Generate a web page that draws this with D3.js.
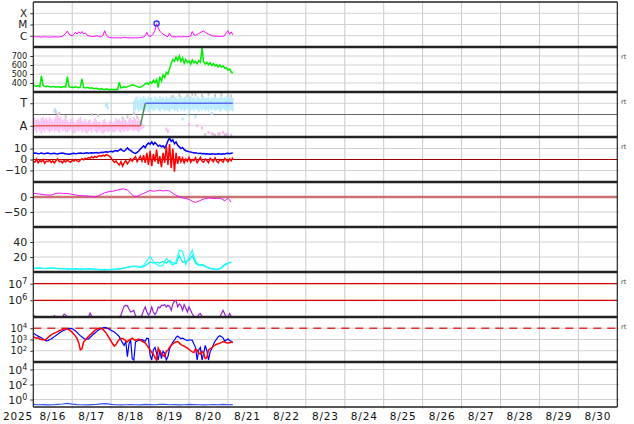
<!DOCTYPE html>
<html><head><meta charset="utf-8">
<script src="https://cdn.jsdelivr.net/npm/d3@7"></script>
<style>body{margin:0;background:#fff}svg{display:block}text{font-family:"DejaVu Sans",sans-serif}</style>
</head><body><svg id="c" width="634" height="424"></svg>
<script>
// ---------- DATA (hours since 2025-08-16 00:00) ----------
const dayLabels = ["8/16","8/17","8/18","8/19","8/20","8/21","8/22","8/23","8/24","8/25","8/26","8/27","8/28","8/29","8/30"];
const yearLabel = "2025";

// X-ray flux, hourly
const xray = [8.0e-7,8.2e-7,7.8e-7,8.5e-7,8.0e-7,7.6e-7,7.9e-7,8.3e-7,8.1e-7,7.7e-7,
7.5e-7,7.8e-7,8.0e-7,8.2e-7,7.9e-7,7.6e-7,7.8e-7,8.4e-7,9.0e-7,1.2e-6,
1.6e-6,2.6e-6,1.4e-6,1.1e-6,1.0e-6,1.3e-6,2.0e-6,1.4e-6,2.3e-6,1.6e-6,
2.4e-6,1.5e-6,1.8e-6,1.2e-6,1.0e-6,9.0e-7,9.0e-7,8.5e-7,9.0e-7,1.0e-6,
9.0e-7,8.0e-7,8.5e-7,1.1e-6,2.8e-6,1.2e-6,8.0e-7,7.0e-7,6.8e-7,6.5e-7,
6.6e-7,6.4e-7,6.7e-7,6.5e-7,6.3e-7,6.6e-7,7.5e-7,6.8e-7,6.5e-7,6.4e-7,
6.6e-7,6.3e-7,6.5e-7,6.7e-7,6.4e-7,6.6e-7,6.9e-7,7.2e-7,8.0e-7,1.0e-6,
2.0e-6,1.0e-6,9.0e-7,1.0e-6,1.5e-6,3.0e-6,1.2e-5,5.0e-6,2.6e-6,1.8e-6,
1.4e-6,1.1e-6,9.0e-7,8.5e-7,1.7e-6,9.0e-7,8.0e-7,8.2e-7,7.8e-7,8.0e-7,
8.3e-7,7.9e-7,8.1e-7,8.4e-7,8.0e-7,8.2e-7,8.8e-7,1.0e-6,2.4e-6,1.2e-6,
1.1e-6,1.3e-6,1.6e-6,1.9e-6,2.3e-6,2.6e-6,2.0e-6,1.6e-6,1.4e-6,1.2e-6,
1.0e-6,9.5e-7,9.0e-7,9.2e-7,8.8e-7,9.0e-7,8.6e-7,9.0e-7,1.1e-6,2.0e-6,
2.8e-6,1.3e-6,2.2e-6,1.2e-6];
const flareHour = 76, flareFlux = 1.2e-5;

// Solar wind speed, hourly
const speed = [380,370,365,372,360,480,375,362,358,365,360,355,362,358,352,360,355,350,358,362,
356,470,360,352,355,350,358,352,348,355,445,350,345,352,348,342,346,340,338,342,
336,332,335,330,328,333,330,326,330,328,325,330,327,410,345,350,358,352,360,365,
372,380,376,368,360,355,352,362,375,390,400,385,410,395,430,405,440,350,470,420,
490,460,520,500,560,620,660,640,690,650,700,640,680,620,660,630,645,610,655,625,
640,615,650,630,790,635,610,630,600,625,595,615,590,605,580,600,575,590,565,570,
545,555,520,510];

// IMF sector (T / A), hourly point spreads
const pinkHi = [-0.4,-0.3,-0.5,-0.35,-0.6,-0.3,-0.2,-0.45,-0.3,-0.5,
-0.25,-0.4,-0.6,-0.35,-0.1,0.1,-0.3,-0.2,-0.5,-0.4,
-0.3,-0.5,-0.7,-0.4,-0.3,-0.6,-0.8,-0.5,-0.35,-0.2,
-0.55,-0.6,-0.4,-0.7,-0.5,-0.45,-0.8,-0.6,-0.3,-0.5,
-0.7,-0.6,-0.9,-0.5,-0.4,-0.7,-0.85,-0.6,-0.5,-0.75,
-0.6,-0.3,-0.5,-0.4,-0.6,-0.45,-0.35,-0.5,-0.7,-0.4,
-0.3,-0.5,-0.2,-0.4,-0.6,-0.3,-0.5,-0.8,-0.9];
const pinkLo = [-1.5,-1.4,-1.6,-1.3,-1.5,-1.7,-1.4,-1.55,-1.3,-1.45,
-1.6,-1.5,-1.35,-1.6,-1.4,-1.5,-1.65,-1.3,-1.5,-1.4,
-1.55,-1.6,-1.45,-1.3,-1.5,-1.7,-1.6,-1.4,-1.5,-1.35,
-1.6,-1.45,-1.55,-1.7,-1.5,-1.4,-1.6,-1.3,-1.5,-1.65,
-1.5,-1.4,-1.6,-1.7,-1.55,-1.45,-1.6,-1.5,-1.35,-1.55,
-1.6,-1.45,-1.3,-1.5,-1.6,-1.4,-1.55,-1.35,-1.5,-1.45,
-1.3,-1.4,-1.5,-1.35,-1.45,-1.6,-1.4,-1.3,-1.2];
const blueStart = 62;
const blueHi = [1.2,1.5,1.6,1.3,1.55,1.4,1.65,1.5,1.35,1.6,1.45,1.55,1.3,1.6,1.5,1.4,1.65,1.5,1.55,1.35,
1.6,1.45,1.5,1.7,1.4,1.55,1.6,1.35,1.5,1.65,1.45,1.55,1.6,1.4,1.5,1.65,1.45,1.55,1.35,1.6,
1.5,1.4,1.55,1.65,1.45,1.5,1.6,1.35,1.55,1.45,1.6,1.5,1.4,1.55,1.65,1.45,1.5,1.6,1.4,1.55,1.5,1.45];
const blueLo = [0.2,0.3,0.5,0.25,0.4,0.35,0.55,0.3,0.45,0.2,0.4,0.5,0.3,0.35,0.55,0.4,0.25,0.45,0.5,0.3,
0.4,0.35,0.2,0.45,0.5,0.3,0.4,0.25,0.55,0.35,0.45,0.3,0.4,0.5,0.2,0.35,0.45,0.3,0.5,0.4,
0.25,0.45,0.35,0.5,0.3,0.4,0.2,0.45,0.35,0.5,0.3,0.4,0.45,0.25,0.35,0.5,0.4,0.3,0.45,0.35,0.4,0.3];
const grayPts = [[14,0.2],[16,0.1],[20,-0.2],[36,0.0],[40,-0.1],[55,-0.3],[58,-0.2],[62,0.1],[64,-0.25],
[86,1.6],[90,1.7],[95,1.65],[98,1.8],[100,1.75],[104,1.7],[108,1.8],[112,1.7],[116,1.75],[120,1.7],[122,1.65],
[106,-1.8],[110,-1.7],[112,-1.85],[114,-1.75],[118,-1.8],[120,-1.7],[122,-1.85]];
const pinkPts = [[82,-1.3],[83,-1.5],[96,-0.9],[101,-1.0],[104,-1.2],[108,-1.6],[111,-1.75],[115,-1.7],[117,-1.6],[119,-1.8]];
const bluePts = [[13,0.3],[13.5,0.45],[45,0.8],[45.5,0.95],[46,0.6],[92,-0.4],[95,0.0],[100,-0.2],[110,0.1]];
const sectorHours = [0,66,69,123];
const sectorVals = [-1,-1,1,1];

// IMF Bt and Bz (nT), hourly
const bt = [5.5,5.8,5.6,5.2,5.4,5.9,5.5,5.3,5.6,5.8,5.4,5.2,5.5,5.7,5.3,5.1,5.4,5.6,5.8,5.5,
5.2,5.0,4.8,5.1,5.4,5.6,5.3,5.5,5.8,6.0,5.7,5.5,5.9,6.1,5.8,6.0,6.2,5.9,6.1,6.3,6.0,
6.2,6.5,6.3,6.8,7.0,6.6,7.2,7.5,7.0,7.8,8.2,7.6,8.5,9.5,8.0,7.5,8.8,10.5,9.0,8.2,7.0,
6.0,5.5,6.5,7.8,9.5,11.0,12.5,10.8,13.5,15.0,14.0,
16.0,13.5,15.5,14.0,12.0,13.0,11.5,12.5,10.5,13.0,17.0,19.5,
16.5,18.0,14.5,16.0,13.0,11.5,10.0,11.0,9.0,8.0,7.5,
7.0,6.8,6.5,6.0,6.2,5.8,5.5,5.6,5.2,5.4,5.0,5.3,5.1,4.9,5.2,5.0,4.8,5.1,5.3,5.0,4.9,5.2,5.0,5.4,5.6,5.2,5.8,6.0];
const bz = [-1.5,-2.5,0.5,-3.0,-1.0,-2.0,0.0,-3.5,-1.5,-2.0,-0.5,-2.8,-1.2,-3.2,-1.0,0.5,-2.0,-1.5,-3.0,-1.0,-2.2,
-0.5,-1.8,-2.5,-0.8,-1.5,0.2,-1.2,-2.0,-0.5,0.8,-0.3,1.0,0.5,1.8,1.2,2.5,1.5,2.8,2.0,3.0,
3.5,2.8,4.0,3.2,4.5,3.8,3.0,1.5,-1.0,-2.5,-1.5,-3.5,-5.0,-2.0,-6.0,-3.0,-1.0,-4.0,-2.0,0.5,
-1.5,1.0,2.5,-2.0,0.5,3.0,-1.5,4.0,-3.0,6.0,-5.0,8.0,
-6.0,5.0,-2.0,9.0,-4.0,3.0,-7.0,6.0,-3.0,12.0,-5.0,14.0,-8.0,10.0,-11.0,6.0,-4.0,3.0,
-2.0,1.5,-3.0,0.5,-1.5,2.0,-2.5,0.0,-1.0,1.5,-3.0,-0.5,2.0,-1.5,-2.5,0.5,-1.0,-3.0,1.0,-0.5,
-2.0,1.5,-1.5,-3.0,0.0,-1.0,-2.5,1.0,-0.5,-2.0,0.5,-1.0,2.0];

// Dst-like index, every 2 hours
const dst = [12,11,10,8,7,6,8,12,13,12,12,11,9,7,5,4,4,3,2,1,
4,9,14,17,19,20,23,26,27,24,12,3,2,8,12,17,22,19,21,23,
20,22,20,12,6,1,-3,-5,-8,-14,-18,-14,-9,-5,-4,-4,-5,-4,-6,-13,-4,-17];

// Density, every 2 hours (two sources)
const densA = [5,5.5,5,4.5,5,5.5,5,4.5,4,5,4.5,4,4.5,4,3.5,4,4.5,4,3.5,4,
3,3.5,3,3.5,3,4,3.5,4,5,6.5,7.5,7,8,7,9,15,21,14,10,8,
9,18,13,9,14,29,28,10,20,29,14,10,9,7,6,4,3.5,4,5,9,11,14];
const densB = [4.5,5,5.5,5,4.5,5,5.5,5,4.5,4.5,4,4.5,4,4.5,4,3.5,4,4.5,4,3.5,
3.5,3,3.5,3,3.5,3.5,4,4.5,5.5,6,7,8,7,6,7,10,13,12,13,12,
14,12,15,12,11,22,13,14,16,22,12,9,10,8,5,4.5,4,3.5,6,10,12,13];

// Electron flux, hourly
const eflux = [1.4e5,1.1e5,1e5,1e5,1e5,1e5,1e5,1e5,1e5,1e5,
1e5,1e5,1e5,1.2e5,1e5,1e5,1e5,1e5,1e5,1.5e5,
1.3e5,1e5,1e5,1e5,1e5,1e5,1e5,1e5,1e5,1e5,
1e5,1e5,1e5,1e5,1e5,1.7e5,1.1e5,1e5,1e5,1e5,
1e5,1e5,1e5,1e5,1e5,1e5,1e5,1e5,1e5,1e5,
1e5,1e5,1e5,1e5,1.3e5,2.5e5,4.5e5,5e5,4.8e5,3e5,
2e5,2.2e5,2.5e5,1.2e5,1e5,1e5,1e5,1.3e5,2.5e5,4e5,
2e5,1.3e5,1.8e5,4e5,2e5,1.4e5,2e5,4e5,3.5e5,5e5,
5e5,5.5e5,4e5,5e5,4.5e5,2.5e5,6e5,9e5,1e6,4e5,
6e5,5e5,2.5e5,5.5e5,3.5e5,2e5,4e5,2.5e5,1.5e5,1.1e5,
1e5,1e5,1.4e5,1.6e5,1.1e5,1e5,1e5,1e5,1e5,1e5,
1e5,1e5,1e5,1e5,1e5,1e5,1.6e5,2.5e5,1.5e5,1e5,
1e5,1.6e5,1.1e5,1e5];
const eThresholds = [1e7,1e6];

// Proton / particle flux pair, hourly
const pBlue = [3800,3000,2400,2000,1700,1400,1100,900,750,800,950,1100,1400,1800,2300,2900,3700,4600,5600,6800,
8000,8800,9400,9800,9000,7500,5800,4200,3000,2200,1700,1300,1100,1000,1100,1500,2100,2900,3800,5000,
6500,8200,9800,11000,11800,11000,9500,7800,6500,5500,4600,3500,2500,1800,900,500,300,700,30,400,
900,20,15,600,750,900,850,1000,800,700,1300,1200,40,15,120,200,60,15,120,20,
90,60,15,30,150,300,600,900,1500,2000,1500,1200,1300,1100,900,800,950,900,850,400,
200,15,120,200,15,60,300,100,15,80,150,350,700,1100,1800,2200,1800,1400,700,900,
1100,800,700,500];
const pRed = [1700,1500,1300,1400,1100,1000,950,900,1100,1500,2000,2600,3200,3700,4300,5000,6000,6800,7800,8500,
8800,8400,7200,6000,4300,3000,2000,1200,500,120,150,600,900,1300,1800,2600,3500,4800,6500,8000,
9500,10500,9800,7500,5500,3500,2100,1200,700,400,260,350,650,1000,1300,1200,1000,800,600,900,
1100,1300,1000,850,950,1100,900,700,600,500,300,200,120,70,50,25,15,170,80,60,
40,30,90,110,200,300,400,550,600,650,500,350,300,250,210,170,130,100,80,70,
145,110,60,50,90,60,20,25,120,150,180,250,320,380,420,480,550,650,600,500,
480,520,560,600];
const pThreshold = 1e4;

// Bottom panel flux, every 3 hours
const lowFlux = [0.22,0.2,0.21,0.19,0.2,0.22,0.25,0.3,0.24,0.21,0.2,0.19,0.21,0.22,0.26,0.28,0.23,0.2,0.19,0.2,
0.21,0.2,0.19,0.22,0.21,0.2,0.23,0.22,0.2,0.21,0.19,0.2,0.22,0.21,0.2,0.19,0.2,0.21,0.2,0.22,0.2,0.21];

// ---------- DRAWING ----------
const svg = d3.select('#c');
const X0 = 33.3, X1 = 617.3, TOP = 2, PH = 45, NP = 9;
const x = d3.scaleLinear().domain([0, 360]).range([X0, X1]);
const pTop = i => TOP + PH * i;
const ser = (vals, step, start = 0) => vals.map((v, i) => [start + i * step, v]);

const panels = [
  {s: d3.scaleLog().domain([1e-7,1e-3]), ticks:[1e-4,1e-5,1e-6], fmt:d=>({1e-4:"X",1e-5:"M",1e-6:"C"})[d], grid:[1e-4,1e-5,1e-6], fs:10.5},
  {s: d3.scaleLinear().domain([300,800]), ticks:[700,600,500,400], fmt:d=>d, grid:[400,500,600,700], rt:true, fs:8.2},
  {s: d3.scaleLinear().domain([-2,2]), ticks:[1,-1], fmt:d=>d>0?"T":"A", grid:[1,-1], rt:true, fs:11.5},
  {s: d3.scaleLinear().domain([-20.5,20.5]), ticks:[10,0,-10], fmt:d=>d<0?"\u2212"+(-d):d, grid:[10,-10], rt:true, fs:10.5},
  {s: d3.scaleLinear().domain([-100,50]), ticks:[0,-50], fmt:d=>d<0?"\u2212"+(-d):d, grid:[-50]},
  {s: d3.scaleLinear().domain([0,60]), ticks:[40,20], fmt:d=>d, grid:[20,40]},
  {s: d3.scaleLog().domain([1e5,5e7]), ticks:[1e7,1e6], exp:true, grid:[], rt:true},
  {s: d3.scaleLog().domain([10,1e5]), ticks:[1e4,1e3,1e2], exp:true, grid:[1e2,1e3,1e4], rt:true, fs:9.6, efs:7},
  {s: d3.scaleLog().domain([0.1,1e5]), ticks:[1e4,1e2,1], exp:true, grid:[1,1e2,1e4]}
];
panels.forEach((p, i) => { p.s.range([pTop(i) + PH, pTop(i)]); p.top = pTop(i); });

const defs = svg.append('defs');
panels.forEach((p, i) => {
  defs.append('clipPath').attr('id', 'clip' + i).append('rect')
    .attr('x', X0).attr('y', p.top).attr('width', X1 - X0).attr('height', PH);
});

// vertical gridlines
const gGrid = svg.append('g');
for (let k = 1; k < 15; k++) {
  gGrid.append('line').attr('x1', x(k*24)).attr('x2', x(k*24)).attr('y1', TOP).attr('y2', pTop(NP) + 2)
    .attr('stroke', '#cacaca').attr('stroke-width', 1);
}
// horizontal gridlines
panels.forEach(p => {
  p.grid.forEach(v => {
    gGrid.append('line').attr('x1', X0).attr('x2', X1 + 2).attr('y1', p.s(v)).attr('y2', p.s(v))
      .attr('stroke', '#d2d2d2').attr('stroke-width', 1);
  });
});

const line = (s) => d3.line().x(d => x(d[0])).y(d => s(d[1]));
const layer = i => svg.append('g').attr('clip-path', `url(#clip${i})`);

// Panel 0: X-ray
{
  const p = panels[0], g = layer(0);
  g.append('path').datum(ser(xray, 1)).attr('d', line(p.s)).attr('fill', 'none').attr('stroke', '#ff00ff').attr('stroke-width', 1);
  g.append('circle').attr('cx', x(flareHour)).attr('cy', p.s(flareFlux)).attr('r', 2.6)
    .attr('fill', 'none').attr('stroke', '#2233ff').attr('stroke-width', 1.3);
}
// Panel 1: speed
{
  const p = panels[1], g = layer(1);
  g.append('path').datum(ser(speed, 1)).attr('d', line(p.s)).attr('fill', 'none').attr('stroke', '#00ee00').attr('stroke-width', 1.5);
}
// Panel 2: sector
{
  const p = panels[2], g = layer(2);
  g.append('line').attr('x1', X0).attr('x2', X1).attr('y1', p.s(0)).attr('y2', p.s(0)).attr('stroke', '#666').attr('stroke-width', 1);
  const pink = pinkHi.map((h, i) => [i, h, pinkLo[i]]);
  g.selectAll('.pk').data(pink).enter().append('rect')
    .attr('x', d => x(d[0]) - 0.8).attr('width', 1.6)
    .attr('y', d => p.s(d[1])).attr('height', d => p.s(d[2]) - p.s(d[1]))
    .attr('fill', '#fbb6f2').attr('opacity', 0.85);
  const blue = blueHi.map((h, i) => [blueStart + i, h, blueLo[i]]);
  g.selectAll('.bl').data(blue).enter().append('rect')
    .attr('x', d => x(d[0]) - 0.8).attr('width', 1.6)
    .attr('y', d => p.s(d[1])).attr('height', d => p.s(d[2]) - p.s(d[1]))
    .attr('fill', '#ade7fb').attr('opacity', 0.85);
  const dots = (arr, col) => g.selectAll(null).data(arr).enter().append('rect')
    .attr('x', d => x(d[0]) - 1).attr('y', d => p.s(d[1]) - 1.5).attr('width', 2).attr('height', 3).attr('fill', col);
  dots(grayPts, '#cccccc'); dots(pinkPts, '#fbb6f2'); dots(bluePts, '#ade7fb');
  const seg = (a, b, col) => g.append('line').attr('x1', x(sectorHours[a])).attr('x2', x(sectorHours[b]))
    .attr('y1', p.s(sectorVals[a])).attr('y2', p.s(sectorVals[b])).attr('stroke', col).attr('stroke-width', 1.5);
  seg(0, 1, '#ee5b5b'); seg(1, 2, '#4f8f4f'); seg(2, 3, '#5570ee');
}
// Panel 3: Bt/Bz
{
  const p = panels[3], g = layer(3);
  g.append('line').attr('x1', X0).attr('x2', X1).attr('y1', p.s(0)).attr('y2', p.s(0)).attr('stroke', '#9a0000').attr('stroke-width', 1.2);
  g.append('path').datum(ser(bt, 1)).attr('d', line(p.s)).attr('fill', 'none').attr('stroke', '#0000ff').attr('stroke-width', 1.5);
  g.append('path').datum(ser(bz, 1)).attr('d', line(p.s)).attr('fill', 'none').attr('stroke', '#ff0000').attr('stroke-width', 1.5);
}
// Panel 4: Dst
{
  const p = panels[4], g = layer(4);
  g.append('line').attr('x1', X0).attr('x2', X1).attr('y1', p.s(0)).attr('y2', p.s(0)).attr('stroke', '#c87272').attr('stroke-width', 2.4);
  g.append('path').datum(ser(dst, 2)).attr('d', line(p.s)).attr('fill', 'none').attr('stroke', '#ee11ee').attr('stroke-width', 1);
}
// Panel 5: density
{
  const p = panels[5], g = layer(5);
  g.append('path').datum(ser(densB, 2)).attr('d', line(p.s)).attr('fill', 'none').attr('stroke', '#00eeee').attr('stroke-width', 1.2);
  g.append('path').datum(ser(densA, 2)).attr('d', line(p.s)).attr('fill', 'none').attr('stroke', '#22ffff').attr('stroke-width', 1.2);
}
// Panel 6: electrons
{
  const p = panels[6], g = layer(6);
  eThresholds.forEach(v => g.append('line').attr('x1', X0).attr('x2', X1).attr('y1', p.s(v)).attr('y2', p.s(v)).attr('stroke', '#cc0000').attr('stroke-width', 1.2));
  g.append('path').datum(ser(eflux, 1)).attr('d', line(p.s)).attr('fill', 'none').attr('stroke', '#9922cc').attr('stroke-width', 1.2);
}
// Panel 7: protons
{
  const p = panels[7], g = layer(7);
  g.append('line').attr('x1', X0).attr('x2', X1).attr('y1', p.s(pThreshold)).attr('y2', p.s(pThreshold))
    .attr('stroke', '#e03030').attr('stroke-width', 1.3).attr('stroke-dasharray', '8,6');
  g.append('path').datum(ser(pBlue, 1)).attr('d', line(p.s)).attr('fill', 'none').attr('stroke', '#0000ff').attr('stroke-width', 1.2);
  g.append('path').datum(ser(pRed, 1)).attr('d', line(p.s)).attr('fill', 'none').attr('stroke', '#ff0000').attr('stroke-width', 1.5);
}
// Panel 8: low flux
{
  const p = panels[8], g = layer(8);
  g.append('path').datum(ser(lowFlux, 3)).attr('d', line(p.s)).attr('fill', 'none').attr('stroke', '#3355ee').attr('stroke-width', 1.2);
}

// Y axes
panels.forEach((p, i) => {
  const ax = d3.axisLeft(p.s).tickValues(p.ticks).tickSize(3).tickPadding(3)
    .tickFormat(p.exp ? () => "" : p.fmt);
  const g = svg.append('g').attr('transform', `translate(${X0},0)`).call(ax);
  g.select('.domain').remove();
  g.selectAll('.tick line').attr('stroke', '#333');
  g.selectAll('text').attr('font-size', p.fs || 11).attr('fill', '#222').attr('font-family', '"DejaVu Sans",sans-serif');
  if (p.exp) {
    g.selectAll('.tick text').each(function(d) {
      const t = d3.select(this);
      t.append('tspan').text('10');
      t.append('tspan').text(Math.round(Math.log10(d))).attr('font-size', p.efs || 8).attr('dy', '-0.5em');
    });
  }
  if (p.rt) {
    svg.append('text').attr('x', 621).attr('y', p.top + 12).attr('font-size', 6.5).attr('fill', '#444').text('rt');
  }
});

// Frame and separators
svg.append('line').attr('x1', X0).attr('x2', X0).attr('y1', TOP).attr('y2', pTop(NP)).attr('stroke', '#222').attr('stroke-width', 1.2);
svg.append('line').attr('x1', X1).attr('x2', X1).attr('y1', TOP).attr('y2', pTop(NP)).attr('stroke', '#222').attr('stroke-width', 1.2);
svg.append('line').attr('x1', X0).attr('x2', X1).attr('y1', TOP).attr('y2', TOP).attr('stroke', '#222').attr('stroke-width', 1.5);
for (let i = 1; i < NP; i++) {
  svg.append('line').attr('x1', X0).attr('x2', X1).attr('y1', pTop(i)).attr('y2', pTop(i)).attr('stroke', '#222').attr('stroke-width', 2.6);
}
svg.append('line').attr('x1', X0).attr('x2', X1).attr('y1', pTop(NP)).attr('y2', pTop(NP)).attr('stroke', '#222').attr('stroke-width', 1.5);

// X labels
const xl = svg.append('g');
dayLabels.forEach((lab, k) => {
  xl.append('text').attr('x', x(k*24 + 12)).attr('y', 420).attr('text-anchor', 'middle')
    .attr('font-size', 10.5).attr('letter-spacing', 0.8).attr('fill', '#111').text(lab);
});
xl.append('text').attr('x', 18).attr('y', 420).attr('text-anchor', 'middle')
  .attr('font-size', 10.5).attr('letter-spacing', 0.8).attr('fill', '#111').text(yearLabel);
</script></body></html>
